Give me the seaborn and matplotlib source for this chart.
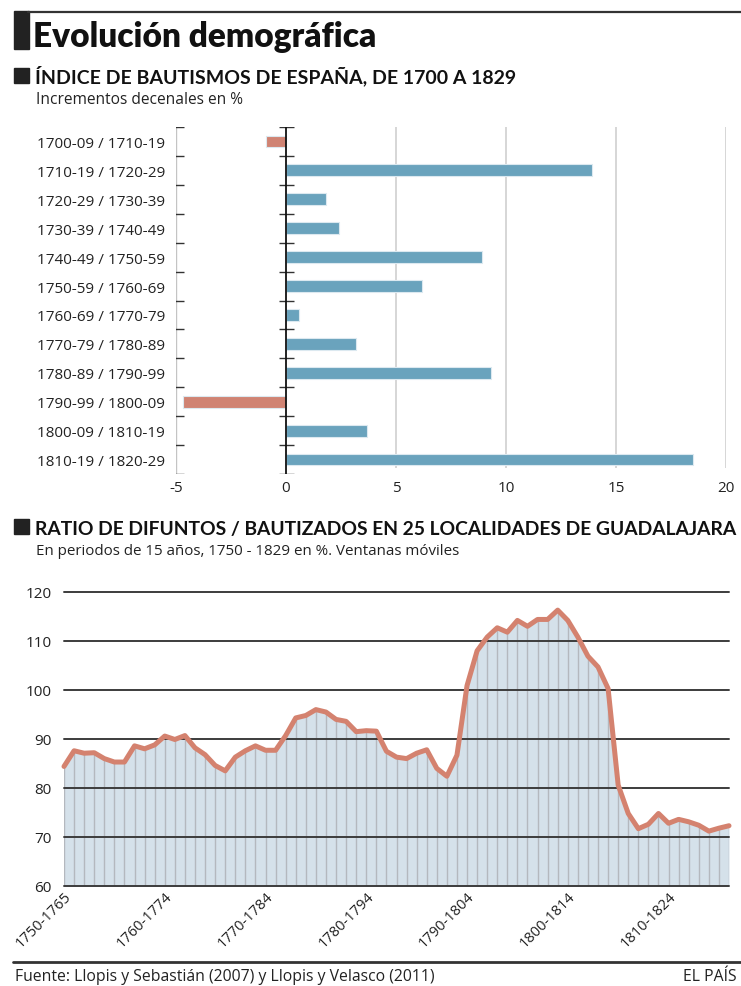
import numpy as np
import pandas as pd
import seaborn as sns
import matplotlib.pyplot as plt
from matplotlib.patches import Rectangle
from matplotlib.lines import Line2D

# Datos: índice de bautismos (incrementos decenales en %)
periodos = ["1700-09 / 1710-19", "1710-19 / 1720-29", "1720-29 / 1730-39",
            "1730-39 / 1740-49", "1740-49 / 1750-59", "1750-59 / 1760-69",
            "1760-69 / 1770-79", "1770-79 / 1780-89", "1780-89 / 1790-99",
            "1790-99 / 1800-09", "1800-09 / 1810-19", "1810-19 / 1820-29"]
incrementos = [-0.9, 13.9, 1.8, 2.4, 8.9, 6.2, 0.6, 3.2, 9.3, -4.7, 3.7, 18.5]

# Datos: ratio difuntos / bautizados, ventanas móviles de 15 años
ventanas = ["1750-1765", "1760-1774", "1770-1784", "1780-1794",
            "1790-1804", "1800-1814", "1810-1824"]
ratio = [84.4, 87.6, 87.1, 87.2, 86.0, 85.3, 85.3, 88.6, 88.0, 88.8,
         90.6, 89.9, 90.7, 88.2, 86.8, 84.6, 83.5, 86.3, 87.6, 88.6,
         87.7, 87.7, 90.7, 94.3, 94.8, 96.0, 95.5, 94.0, 93.6, 91.5,
         91.7, 91.6, 87.5, 86.3, 86.0, 87.1, 87.8, 84.0, 82.4, 86.7,
         100.9, 108.0, 110.8, 112.7, 111.8, 114.2, 113.0, 114.4, 114.4, 116.3,
         114.2, 110.8, 106.9, 104.7, 100.3, 80.6, 74.8, 71.7, 72.6, 74.8,
         72.8, 73.6, 73.1, 72.4, 71.2, 71.8, 72.3]

AZUL = "#6aa3bd"
ROJO = "#d08373"
LINEA = "#d4826f"
RELLENO = "#d5e1ea"
OSCURO = "#333333"

sns.set_style("white")
plt.rcParams["font.family"] = ["Open Sans", "DejaVu Sans"]

W, H = 741, 987
fig = plt.figure(figsize=(W / 100, H / 100), dpi=100)


def fx(px):
    return px / W


def fy(py):
    return 1 - py / H


# Cabecera y adornos
fig.add_artist(Line2D([fx(28), fx(741)], [fy(12.5), fy(12.5)], color=OSCURO, lw=1.6,
                      transform=fig.transFigure))
fig.add_artist(Line2D([fx(13), fx(741)], [fy(963), fy(963)], color=OSCURO, lw=2,
                      transform=fig.transFigure))
for (x0, y0, w, h) in [(14, 12, 15, 38), (14, 69, 15, 15), (14, 520, 15, 15)]:
    fig.add_artist(Rectangle((fx(x0), fy(y0 + h)), w / W, h / H, color="#222222",
                             transform=fig.transFigure))

fig.text(fx(33), fy(47), "Evolución demográfica", fontsize=24, fontweight="heavy",
         family="Lato", color="#111111", va="baseline")
fig.text(fx(35), fy(83), "ÍNDICE DE BAUTISMOS DE ESPAÑA, DE 1700 A 1829", fontsize=14,
         fontweight="bold", family="Lato", color="#111111", va="baseline")
fig.text(fx(36), fy(104), "Incrementos decenales en %", fontsize=11.2, color="#222222",
         va="baseline")
fig.text(fx(35), fy(535), "RATIO DE DIFUNTOS / BAUTIZADOS EN 25 LOCALIDADES DE GUADALAJARA",
         fontsize=13.9, fontweight="bold", family="Lato", color="#111111", va="baseline")
fig.text(fx(36), fy(555), "En periodos de 15 años, 1750 - 1829 en %. Ventanas móviles",
         fontsize=10.9, color="#222222", va="baseline")
fig.text(fx(15), fy(981), "Fuente: Llopis y Sebastián (2007) y Llopis y Velasco (2011)",
         fontsize=11.3, color="#222222", va="baseline")
fig.text(fx(737), fy(981), "EL PAÍS", fontsize=11.3, color="#222222", va="baseline", ha="right")

# Gráfico de barras
ax1 = fig.add_axes([fx(176), fy(475), 550 / W, 347 / H])
df_b = pd.DataFrame({"periodo": periodos, "incremento": incrementos})
df_b["signo"] = np.where(df_b["incremento"] < 0, "neg", "pos")
sns.barplot(data=df_b, y="periodo", x="incremento", hue="signo",
            palette={"neg": ROJO, "pos": AZUL}, dodge=False, width=0.41, saturation=1,
            legend=False, edgecolor="#dce9f0", linewidth=0.8, ax=ax1, zorder=3)
ax1.set_xlim(-5, 20)
ax1.set_ylim(len(periodos) - 0.5, -0.5)
for v in [5, 10, 15, 20]:
    ax1.vlines(v, -0.5, len(periodos) - 0.7, color="#d6d6d6", lw=1.4, zorder=1)
ax1.vlines(-5, -0.5, len(periodos) - 0.5, color="#c4c4c4", lw=1, zorder=1)
ax1.vlines(0, -0.5, len(periodos) - 0.5, color="#111111", lw=1.3, zorder=4)
bordes = np.arange(-0.5, len(periodos))
ax1.hlines(bordes, -5.32, -4.64, color=OSCURO, lw=1, zorder=2)
ax1.hlines(bordes, -0.32, 0.36, color=OSCURO, lw=1, zorder=2)
ax1.set_xticks([-5, 0, 5, 10, 15, 20])
ax1.set_xticklabels(["-5", "0", "5", "10", "15", "20"])
ax1.tick_params(axis="x", length=0, pad=4, labelsize=11, labelcolor="#222222")
ax1.tick_params(axis="y", length=0, pad=8, labelsize=11, labelcolor="#222222")
ax1.set_xlabel("")
ax1.set_ylabel("")
sns.despine(ax=ax1, left=True, bottom=True)

# Gráfico de área
ax2 = fig.add_axes([fx(64), fy(887), 665 / W, 294 / H])
x = np.arange(len(ratio))
ax2.fill_between(x, 60, ratio, color=RELLENO, lw=0, zorder=1)
ax2.vlines(x, 60, ratio, color="#b4b8be", lw=1, zorder=1.5)
for v in range(60, 121, 10):
    ax2.axhline(v, color="#3c3c3c", lw=1.4, zorder=2)
sns.lineplot(x=x, y=ratio, color=LINEA, lw=3.6, ax=ax2, zorder=3)
for ln in ax2.lines:
    ln.set_clip_on(False)
ax2.set_xlim(0, len(ratio) - 1)
ax2.set_ylim(60, 120)
ax2.set_yticks(range(60, 121, 10))
ax2.set_xticks(np.arange(len(ventanas)) * 10)
ax2.set_xticklabels(ventanas, rotation=45, ha="right", rotation_mode="anchor")
ax2.tick_params(axis="y", length=0, pad=9, labelsize=11, labelcolor="#222222")
ax2.tick_params(axis="x", length=0, pad=2, labelsize=10.5, labelcolor="#222222")
sns.despine(ax=ax2, left=True, bottom=True, top=True, right=True)

fig.savefig("out.png", dpi=100)
